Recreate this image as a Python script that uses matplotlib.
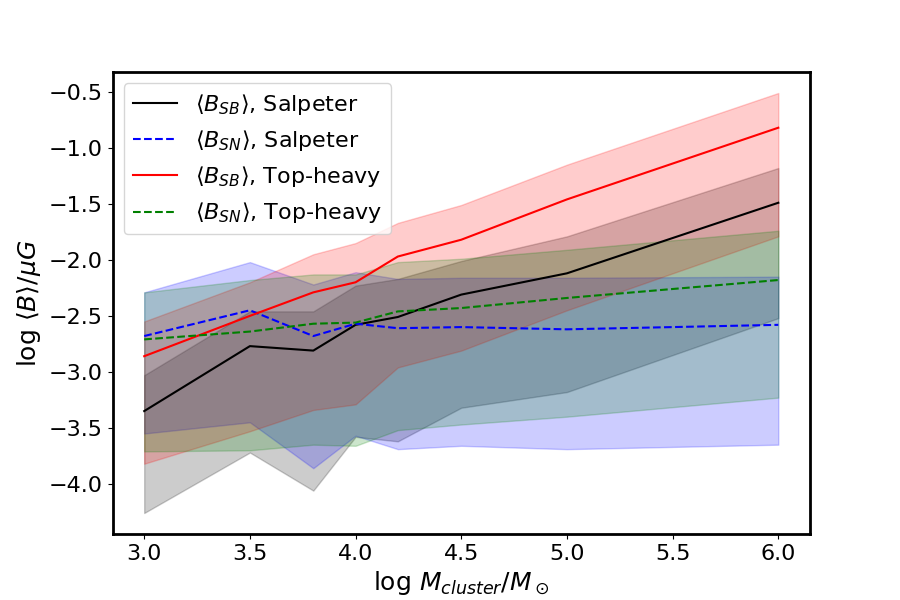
import matplotlib
matplotlib.use("Agg")
import matplotlib.pyplot as plt
import numpy as np

logM = [3.0, 3.5, 3.8, 4.0, 4.2, 4.5, 5.0, 6.0]

bsb_salp = [-3.35, -2.77, -2.81, -2.58, -2.51, -2.31, -2.12, -1.49]
bsb_salp_lo = [-4.26, -3.72, -4.06, -3.58, -3.62, -3.32, -3.18, -2.52]
bsb_salp_hi = [-3.03, -2.46, -2.46, -2.23, -2.17, -2.01, -1.79, -1.18]

bsn_salp = [-2.68, -2.45, -2.68, -2.57, -2.61, -2.60, -2.62, -2.58]
bsn_salp_lo = [-3.55, -3.45, -3.86, -3.57, -3.69, -3.66, -3.69, -3.65]
bsn_salp_hi = [-2.29, -2.02, -2.22, -2.11, -2.17, -2.16, -2.16, -2.15]

bsb_top = [-2.86, -2.50, -2.29, -2.20, -1.97, -1.82, -1.46, -0.82]
bsb_top_lo = [-3.82, -3.53, -3.34, -3.29, -2.96, -2.81, -2.45, -1.79]
bsb_top_hi = [-2.55, -2.20, -1.95, -1.85, -1.67, -1.51, -1.15, -0.51]

bsn_top = [-2.71, -2.64, -2.57, -2.56, -2.46, -2.43, -2.34, -2.18]
bsn_top_lo = [-3.71, -3.70, -3.65, -3.66, -3.52, -3.47, -3.40, -3.23]
bsn_top_hi = [-2.29, -2.18, -2.13, -2.13, -2.02, -1.99, -1.91, -1.74]

fig, ax = plt.subplots(figsize=(9, 6), dpi=100)

ax.plot(logM, bsb_salp, color='k', ls='-', lw=1.5, label=r'$\langle B_{SB} \rangle$, Salpeter')
ax.fill_between(logM, bsb_salp_lo, bsb_salp_hi, color='k', alpha=0.2)
ax.plot(logM, bsn_salp, color='b', ls='--', lw=1.5, label=r'$\langle B_{SN} \rangle$, Salpeter')
ax.fill_between(logM, bsn_salp_lo, bsn_salp_hi, color='b', alpha=0.2)
ax.plot(logM, bsb_top, color='r', ls='-', lw=1.5, label=r'$\langle B_{SB} \rangle$, Top-heavy')
ax.fill_between(logM, bsb_top_lo, bsb_top_hi, color='r', alpha=0.2)
ax.plot(logM, bsn_top, color='g', ls='--', lw=1.5, label=r'$\langle B_{SN} \rangle$, Top-heavy')
ax.fill_between(logM, bsn_top_lo, bsn_top_hi, color='g', alpha=0.2)

ax.set_xlabel(r'log $M_{cluster}/M_\odot$', fontsize=18)
ax.set_ylabel(r'log $\langle B \rangle / \mu G$', fontsize=18)
ax.tick_params(labelsize=16)
for s in ax.spines.values():
    s.set_linewidth(2)
ax.legend(loc='upper left', fontsize=16)

fig.savefig('out.png', dpi=100)
